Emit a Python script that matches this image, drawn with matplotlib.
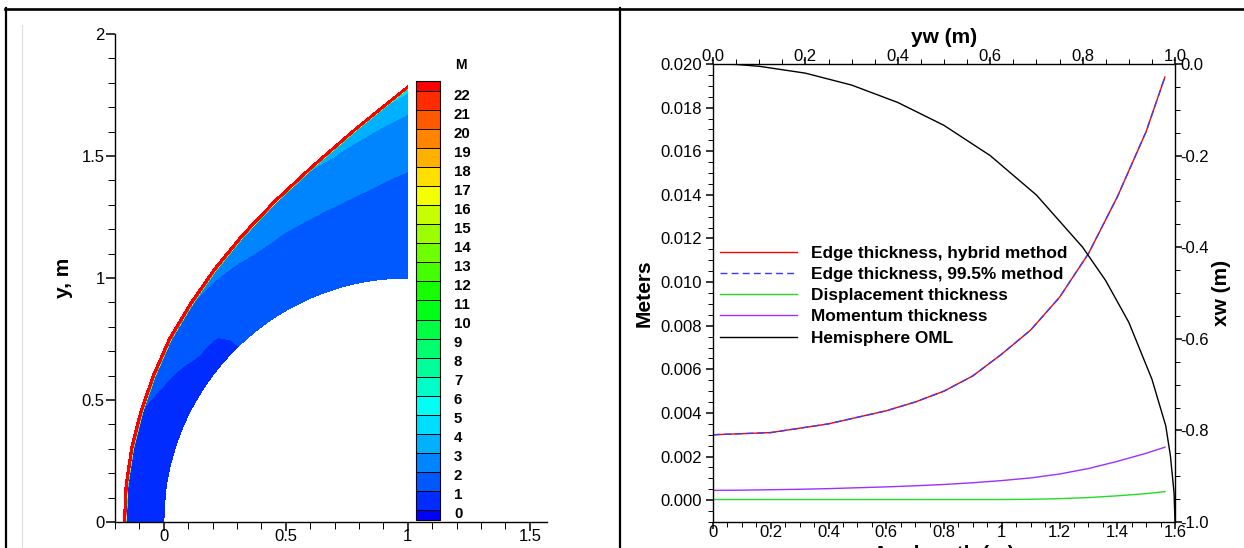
import numpy as np
import matplotlib
matplotlib.use("Agg")
import matplotlib.pyplot as plt
import matplotlib.tri as mtri
import matplotlib.transforms as mtransforms
from matplotlib.colors import LinearSegmentedColormap, from_levels_and_colors
from matplotlib.lines import Line2D
from matplotlib.ticker import MultipleLocator, FuncFormatter

plt.rcParams["font.family"] = ["Liberation Sans", "DejaVu Sans"]
plt.rcParams["axes.unicode_minus"] = False

W, H = 1244, 548

# ---- left panel data: Mach number in the shock layer ----
# stations round the body, angle from the stagnation line (deg)
phi_deg = [0, 7.5, 15, 22.5, 30, 37.5, 45, 52.5, 60, 67.5, 75, 82.5, 90]
# shock radius from the sphere centre (1, 0); body radius is 1
shock_r = [1.153, 1.156, 1.163, 1.1755, 1.195, 1.223, 1.253, 1.295,
           1.348, 1.415, 1.501, 1.618, 1.775]
# fraction of the shock layer, body (0) -> shock (1)
eta = [0.0, 0.2, 0.4, 0.6, 0.8, 0.95, 1.0]
mach = [
    [0.02, 0.05, 0.10, 0.20, 0.30, 0.38, 0.40],
    [0.12, 0.15, 0.20, 0.28, 0.38, 0.47, 0.50],
    [0.25, 0.28, 0.33, 0.42, 0.55, 0.66, 0.70],
    [0.40, 0.43, 0.50, 0.62, 0.78, 0.92, 0.97],
    [0.57, 0.62, 0.72, 0.87, 1.07, 1.22, 1.30],
    [0.75, 0.85, 0.97, 1.12, 1.35, 1.52, 1.60],
    [0.97, 0.99, 1.05, 1.30, 1.60, 1.85, 1.95],
    [1.15, 1.25, 1.40, 1.58, 1.82, 2.10, 2.25],
    [1.40, 1.50, 1.63, 1.80, 2.05, 2.30, 2.45],
    [1.58, 1.66, 1.76, 1.90, 2.14, 2.50, 2.75],
    [1.72, 1.78, 1.86, 1.97, 2.22, 2.85, 3.02],
    [1.83, 1.86, 1.91, 2.01, 2.40, 3.15, 3.60],
    [1.92, 1.90, 1.93, 2.04, 2.55, 3.75, 4.20],
]
mach_inf = 23.0
mach_levels = list(range(0, 23))

# ---- right panel data ----
arc = [0.0, 0.1, 0.2, 0.3, 0.4, 0.5, 0.6, 0.7, 0.8, 0.9, 1.0, 1.1, 1.2,
       1.3, 1.4, 1.5, 1.565]
edge_hybrid = [0.0030, 0.00305, 0.0031, 0.0033, 0.0035, 0.0038, 0.0041, 0.0045,
               0.0050, 0.0057, 0.0067, 0.0078, 0.0093, 0.0113, 0.0139, 0.0169, 0.0194]
edge_995 = [0.0030, 0.00305, 0.0031, 0.0033, 0.0035, 0.0038, 0.0041, 0.0045,
            0.0050, 0.0057, 0.0067, 0.0078, 0.0093, 0.0113, 0.0139, 0.0169, 0.0194]
displacement = [0.00003, 0.00003, 0.00003, 0.00003, 0.00003, 0.00003, 0.00003, 0.00003,
                0.00003, 0.00003, 0.00003, 0.00004, 0.00007, 0.00012, 0.00020, 0.00030, 0.00039]
momentum = [0.00045, 0.00046, 0.00048, 0.00050, 0.00053, 0.00057, 0.00061, 0.00066,
            0.00072, 0.00080, 0.00090, 0.00102, 0.00120, 0.00145, 0.00178, 0.00215, 0.00243]
# hemisphere outer mould line
oml_yw = [0.0, 0.05, 0.1, 0.2, 0.3, 0.4, 0.5, 0.6, 0.7, 0.8, 0.85, 0.9, 0.95,
          0.98, 0.99, 0.998, 1.0]
oml_xw = [0.0, -0.001, -0.005, -0.020, -0.046, -0.084, -0.134, -0.200, -0.286,
          -0.400, -0.473, -0.564, -0.688, -0.790, -0.855, -0.937, -1.0]

fig = plt.figure(figsize=(W / 100, H / 100), dpi=100)


def px(x0, y0, w, h):
    # pixel box (top-left origin) -> figure fraction rect
    return [x0 / W, 1 - (y0 + h) / H, w / W, h / H]


# page frame
fig.add_artist(Line2D([5 / W, 1], [1 - 8.5 / H] * 2, color="black", lw=1.9))
fig.add_artist(Line2D([6 / W] * 2, [0, 1 - 8 / H], color="black", lw=1.6))
fig.add_artist(Line2D([620 / W] * 2, [0, 1 - 8 / H], color="black", lw=1.6))
fig.add_artist(Line2D([22 / W] * 2, [0, 1 - 25 / H], color="#dddddd", lw=0.8))

# ---- left panel ----
ax1 = fig.add_axes(px(115, 34, 432, 488))
phi = np.radians(np.array(phi_deg))[:, None]
rs = np.array(shock_r)[:, None]
base = LinearSegmentedColormap.from_list(
    "small_rainbow", ["#0000ff", "#00ffff", "#00ff00", "#ffff00", "#ff0000"], N=24)
cmap, norm = from_levels_and_colors(mach_levels, base(np.arange(24)), extend="both")

# shock layer: body -> shock; smooth contours built on the (phi, eta) grid
R_in = 1 + np.array(eta)[None, :] * (rs - 1)
X_in = (1 - R_in * np.cos(phi)).ravel()
Y_in = (R_in * np.sin(phi)).ravel()
ni, nj = R_in.shape
P, E = np.meshgrid(np.array(phi_deg) / 90.0, eta, indexing="ij")
tris = []
for i in range(ni - 1):
    for j in range(nj - 1):
        a, b, c, d = i * nj + j, (i + 1) * nj + j, i * nj + j + 1, (i + 1) * nj + j + 1
        tris += [[a, b, c], [b, d, c]]
tri_p = mtri.Triangulation(P.ravel(), E.ravel(), tris)
M_in = np.array(mach).ravel()
refiner = mtri.UniformTriRefiner(tri_p)
tri_pf, M_f = refiner.refine_field(
    M_in, triinterpolator=mtri.CubicTriInterpolator(tri_p, M_in, kind="geom"), subdiv=3)
_, X_f = refiner.refine_field(X_in, subdiv=3)
_, Y_f = refiner.refine_field(Y_in, subdiv=3)
tri_xy = mtri.Triangulation(X_f, Y_f, tri_pf.triangles)
cf = ax1.tricontourf(tri_xy, M_f, levels=mach_levels, cmap=cmap, norm=norm, extend="both")

# shock itself: jump to the free-stream Mach number
R_sh = np.hstack([rs, rs + 0.004, rs + 0.0125])
M_sh = np.hstack([np.array(mach)[:, -1:], np.full((ni, 2), mach_inf)])
ax1.contourf(1 - R_sh * np.cos(phi), R_sh * np.sin(phi), M_sh,
             levels=mach_levels, cmap=cmap, norm=norm, extend="both")

ax1.set_xlim(-0.2, 1.5705)
ax1.set_ylim(0, 2)
for s in ["top", "right"]:
    ax1.spines[s].set_visible(False)
for s in ["left", "bottom"]:
    ax1.spines[s].set_linewidth(1.0)
ax1.xaxis.set_major_locator(MultipleLocator(0.5))
ax1.xaxis.set_minor_locator(MultipleLocator(0.1))
ax1.yaxis.set_major_locator(MultipleLocator(0.5))
ax1.yaxis.set_minor_locator(MultipleLocator(0.1))
fmt_g = FuncFormatter(lambda v, p: f"{v:g}")
ax1.xaxis.set_major_formatter(fmt_g)
ax1.yaxis.set_major_formatter(fmt_g)
ax1.tick_params(which="major", direction="out", length=6.5, width=1.1, labelsize=12)
ax1.tick_params(which="minor", direction="out", length=5.2, width=0.7)
ax1.tick_params(axis="y", which="major", pad=1)
ax1.tick_params(axis="x", which="major", pad=-1.5)
ax1.set_ylabel("y, m", fontsize=15, fontweight="bold")
ax1.yaxis.set_label_coords(-0.097, 0.5)

cax = fig.add_axes(px(416, 81, 24, 439))
cb = fig.colorbar(cf, cax=cax, ticks=mach_levels, drawedges=True,
                  extendrect=True, extendfrac=0.025)
cb.outline.set_edgecolor("black")
cb.outline.set_linewidth(0.8)
cb.dividers.set_color("black")
cb.dividers.set_linewidth(0.7)
cax.tick_params(length=0, pad=10, labelsize=10.8)
shift = mtransforms.ScaledTranslation(0, -3 / 100, fig.dpi_scale_trans)
for t in cax.get_yticklabels():
    t.set_fontweight("bold")
    t.set_transform(t.get_transform() + shift)
fig.text(461 / W, 1 - 65 / H, "M", ha="center", va="center",
         fontsize=10, fontweight="bold")

# ---- right panel ----
rect = px(713, 64, 462, 458)
ax2 = fig.add_axes(rect)
l1, = ax2.plot(arc, edge_hybrid, color="#ff0000", lw=1.0,
               label="Edge thickness, hybrid method")
l2, = ax2.plot(arc, edge_995, color="#3b3bff", lw=1.0, ls=(0, (5, 3)),
               label="Edge thickness, 99.5% method")
l3, = ax2.plot(arc, displacement, color="#22dd22", lw=1.0,
               label="Displacement thickness")
l4, = ax2.plot(arc, momentum, color="#9b30ff", lw=1.0,
               label="Momentum thickness")
ax2.set_xlim(0, 1.6)
ax2.set_ylim(-0.001, 0.020)
ax2.xaxis.set_major_locator(MultipleLocator(0.2))
ax2.xaxis.set_minor_locator(MultipleLocator(0.05))
ax2.yaxis.set_major_locator(MultipleLocator(0.002))
ax2.yaxis.set_minor_locator(MultipleLocator(0.0005))
ax2.xaxis.set_major_formatter(fmt_g)
ax2.yaxis.set_major_formatter(FuncFormatter(lambda v, p: f"{v:.3f}"))
for s in ax2.spines.values():
    s.set_linewidth(1.0)
ax2.tick_params(which="major", direction="out", length=5, width=1.1, labelsize=12)
ax2.tick_params(which="minor", direction="out", length=3.6, width=0.7)
ax2.tick_params(axis="y", which="major", pad=3)
ax2.tick_params(axis="x", which="major", pad=-2.5)
ax2.set_ylabel("Meters", fontsize=15, fontweight="bold")
ax2.yaxis.set_label_coords(-0.128, 0.5)

ax3 = fig.add_axes(rect)
ax3.patch.set_visible(False)
for s in ax3.spines.values():
    s.set_visible(False)
l5, = ax3.plot(oml_yw, oml_xw, color="black", lw=1.0, label="Hemisphere OML")
ax3.set_xlim(0, 1)
ax3.set_ylim(-1, 0)
ax3.xaxis.tick_top()
ax3.yaxis.tick_right()
ax3.xaxis.set_label_position("top")
ax3.yaxis.set_label_position("right")
ax3.xaxis.set_major_locator(MultipleLocator(0.2))
ax3.xaxis.set_minor_locator(MultipleLocator(0.05))
ax3.yaxis.set_major_locator(MultipleLocator(0.2))
ax3.yaxis.set_minor_locator(MultipleLocator(0.05))
fmt_1 = FuncFormatter(lambda v, p: "0.0" if abs(v) < 1e-9 else f"{v:.1f}")
ax3.xaxis.set_major_formatter(fmt_1)
ax3.yaxis.set_major_formatter(fmt_1)
ax3.tick_params(which="major", direction="out", length=5, width=1.1, labelsize=12)
ax3.tick_params(which="minor", direction="out", length=3.6, width=0.7)
ax3.tick_params(axis="x", which="major", pad=-4.7)
ax3.tick_params(axis="y", which="major", pad=-1)
ax3.set_xlabel("yw (m)", fontsize=15, fontweight="bold")
ax3.xaxis.set_label_coords(0.5, 1.045)
ax3.set_ylabel("xw (m)", fontsize=15, fontweight="bold")
ax3.yaxis.set_label_coords(1.08, 0.5)

handles = [l1, l2, l3, l4, l5]
ax3.legend(handles, [h.get_label() for h in handles], loc="upper left",
           bbox_to_anchor=(719.5 / W, 1 - 245.5 / H), bbox_transform=fig.transFigure,
           frameon=False, borderpad=0, borderaxespad=0, handlelength=4.5,
           handletextpad=0.8, labelspacing=0.36,
           prop={"weight": "bold", "size": 12.4})

fig.text(944 / W, 1 - 545 / H, "Arc length (m)", ha="center", va="top",
         fontsize=15, fontweight="bold")

fig.savefig("out.png", dpi=100)
